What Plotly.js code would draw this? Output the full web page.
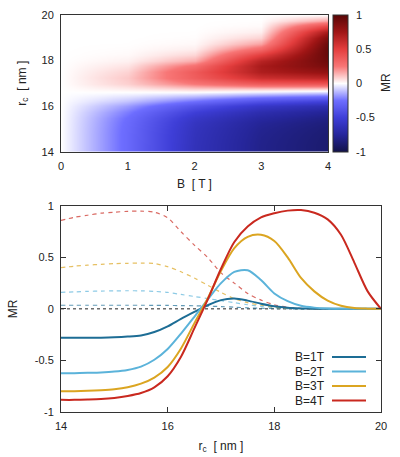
<!DOCTYPE html>
<html>
<head>
<meta charset="utf-8">
<script src="https://cdn.plot.ly/plotly-3.0.1.min.js"></script>
<style>html,body{margin:0;padding:0;background:#fff;}#chart{width:400px;height:457px;}</style>
</head>
<body>
<div id="chart"></div>
<script>
// r_c grid (nm)
var rc = [14,14.25,14.5,14.75,15,15.25,15.5,15.75,16,16.25,16.5,16.75,17,17.25,17.5,17.75,18,18.25,18.5,18.75,19,19.25,19.5,19.75,20];

// Solid curves: MR vs r_c
var mrB1 = [-0.28,-0.28,-0.28,-0.28,-0.277,-0.27,-0.258,-0.225,-0.17,-0.097,-0.03,0.035,0.085,0.10,0.08,0.05,0.025,0.01,0.004,0.001,0,0,0,0,0];
var mrB2 = [-0.625,-0.625,-0.622,-0.618,-0.61,-0.594,-0.562,-0.495,-0.39,-0.24,-0.077,0.09,0.25,0.36,0.375,0.28,0.15,0.075,0.03,0.012,0.004,0.001,0,0,0];
var mrB3 = [-0.80,-0.80,-0.797,-0.791,-0.781,-0.762,-0.727,-0.668,-0.565,-0.385,-0.141,0.10,0.37,0.59,0.70,0.72,0.66,0.50,0.30,0.17,0.08,0.03,0.008,0.002,0];
var mrB4 = [-0.885,-0.885,-0.882,-0.877,-0.866,-0.847,-0.818,-0.763,-0.655,-0.465,-0.19,0.09,0.39,0.65,0.80,0.89,0.93,0.955,0.96,0.935,0.87,0.72,0.45,0.17,0];

// Dashed curves
var dB1 = [0.035,0.035,0.035,0.035,0.035,0.035,0.035,0.034,0.033,0.032,0.03,0.027,0.022,0.016,0.01,0.006,0.003,0.001,0,0,0,0,0,0,0];
var dB2 = [0.16,0.165,0.17,0.173,0.175,0.176,0.175,0.17,0.16,0.14,0.12,0.10,0.08,0.06,0.04,0.025,0.013,0.006,0.002,0,0,0,0,0,0];
var dB3 = [0.40,0.415,0.425,0.433,0.44,0.443,0.445,0.44,0.41,0.36,0.30,0.23,0.16,0.10,0.06,0.035,0.015,0.006,0.002,0,0,0,0,0,0];
var dB4 = [0.86,0.89,0.91,0.93,0.94,0.948,0.95,0.94,0.885,0.75,0.62,0.50,0.35,0.25,0.15,0.085,0.04,0.015,0.005,0.001,0,0,0,0,0];

// Heatmap columns (B in T)
var Bcols = [0,1,2,3,4];
var mrB0 = [0,0,0,0,0,0,0,0,0,0,0,0,0,0,0,0,0,0,0,0,0,0,0,0,0];

var legendLabels = ['B=1T','B=2T','B=3T','B=4T'];
var colorbarTicks = [-1,-0.5,0,0.5,1];
var colorbarTickText = ['-1','-0.5','0','0.5','1'];
var colors = ['#1d6d95','#5bb3da','#dba521','#c9291f'];

var cols = [mrB0, mrB1, mrB2, mrB3, mrB4];
var z = rc.map(function(_, i){ return cols.map(function(c){ return c[i]; }); });

var fam = 'Liberation Sans, Arial, sans-serif';
var font = {family:fam, size:11, color:'#222'};
var tfont = {family:fam, size:12, color:'#222'};

var cbTop = 14.7, cbBot = 151.7;
var traces = [];
traces.push({
  type:'heatmap', x:Bcols, y:rc, z:z, zmin:-1, zmax:1, zsmooth:'best',
  xaxis:'x', yaxis:'y',
  colorscale:[[0,'rgb(18,18,72)'],[0.125,'rgb(38,38,155)'],[0.25,'rgb(62,62,215)'],[0.375,'rgb(110,110,255)'],[0.5,'rgb(255,255,255)'],[0.625,'rgb(248,118,118)'],[0.75,'rgb(228,62,62)'],[0.875,'rgb(160,22,22)'],[1,'rgb(88,6,6)']],
  colorbar:{x:333/400, xanchor:'left', y:1-(cbTop+cbBot)/2/457, yanchor:'middle', len:(cbBot-cbTop)/457, lenmode:'fraction',
    thickness:15, thicknessmode:'pixels', outlinewidth:1, outlinecolor:'#333',
    tickvals:colorbarTicks, showticklabels:false, ticks:'', xpad:0, ypad:0},
  hoverinfo:'skip'
});
var dashedSets = [dB1,dB2,dB3,dB4];
for (var k=0;k<4;k++){
  traces.push({type:'scatter', mode:'lines', x:rc, y:dashedSets[k], xaxis:'x2', yaxis:'y2',
    line:{color:colors[k], width:1.2, dash:'4px,4px', shape:'spline', smoothing:0.8}, opacity:0.7, showlegend:false, hoverinfo:'skip'});
}
var solidSets = [mrB1,mrB2,mrB3,mrB4];
for (var k=0;k<4;k++){
  traces.push({type:'scatter', mode:'lines', x:rc, y:solidSets[k], xaxis:'x2', yaxis:'y2', name:legendLabels[k],
    line:{color:colors[k], width:2, shape:'spline', smoothing:0.8}, showlegend:false, hoverinfo:'skip'});
}

var axBase = {showline:true, linecolor:'#333', linewidth:1, mirror:'ticks', ticks:'inside', ticklen:5, tickcolor:'#333',
  showgrid:false, zeroline:false, tickfont:font, ticklabelstandoff:4};

var annotations = [], shapes = [];
var rowY = [357, 371.5, 386, 400.5];
for (var k=0;k<4;k++){
  var py = 1 - rowY[k]/457;
  annotations.push({xref:'paper', yref:'paper', x:327/400, y:py, xanchor:'right', yanchor:'middle', text:legendLabels[k], showarrow:false, font:tfont});
  shapes.push({type:'line', xref:'paper', yref:'paper', x0:332/400, x1:366/400, y0:py, y1:py, line:{color:colors[k], width:2}});
}
// colorbar tick labels, inner tick dashes and title
colorbarTicks.forEach(function(v, i){
  var ypx = cbTop + (1 - (v+1)/2)*(cbBot-cbTop);
  var py = 1 - ypx/457;
  annotations.push({xref:'paper', yref:'paper', x:355/400, y:py, xanchor:'left', yanchor:'middle', text:colorbarTickText[i], showarrow:false, font:font, borderpad:0});
  if (v > -1 && v < 1) {
    shapes.push({type:'line', xref:'paper', yref:'paper', x0:333/400, x1:337/400, y0:py, y1:py, line:{color:'#333', width:1}});
    shapes.push({type:'line', xref:'paper', yref:'paper', x0:344/400, x1:348/400, y0:py, y1:py, line:{color:'#333', width:1}});
  }
});
annotations.push({xref:'paper', yref:'paper', x:386/400, y:1-83/457, xanchor:'center', yanchor:'middle', text:'MR', textangle:-90, showarrow:false, font:tfont});
shapes.push({type:'line', xref:'x2', yref:'y2', x0:14, x1:20, y0:0, y1:0, line:{color:'#222', width:1, dash:'dot'}, layer:'below'});

var layout = {
  width:400, height:457, margin:{l:0,r:0,t:0,b:0}, paper_bgcolor:'#fff', plot_bgcolor:'#fff', font:font, showlegend:false,
  xaxis: Object.assign({}, axBase, {domain:[61/400, 328/400], range:[0,4], tickvals:[0,1,2,3,4], anchor:'y', ticks:'',
    title:{text:'B  [ T ]', font:tfont, standoff:8}}),
  yaxis: Object.assign({}, axBase, {domain:[1-cbBot/457, 1-cbTop/457], range:[14,20], tickvals:[14,16,18,20], anchor:'x', ticks:'',
    title:{text:'r<sub>c</sub>  [ nm ]', font:tfont, standoff:12}}),
  xaxis2: Object.assign({}, axBase, {domain:[61/400, 381/400], range:[14,20], tickvals:[14,16,18,20], anchor:'y2',
    title:{text:'r<sub>c</sub>  [ nm ]', font:tfont, standoff:10}}),
  yaxis2: Object.assign({}, axBase, {domain:[1-411.7/457, 1-206/457], range:[-1,1], tickvals:[-1,-0.5,0,0.5,1], ticktext:['-1','-0.5','0','0.5','1'], anchor:'x2',
    title:{text:'MR', font:tfont, standoff:14}}),
  annotations:annotations, shapes:shapes
};

Plotly.newPlot('chart', traces, layout, {staticPlot:true, displayModeBar:false});
</script>
</body>
</html>
